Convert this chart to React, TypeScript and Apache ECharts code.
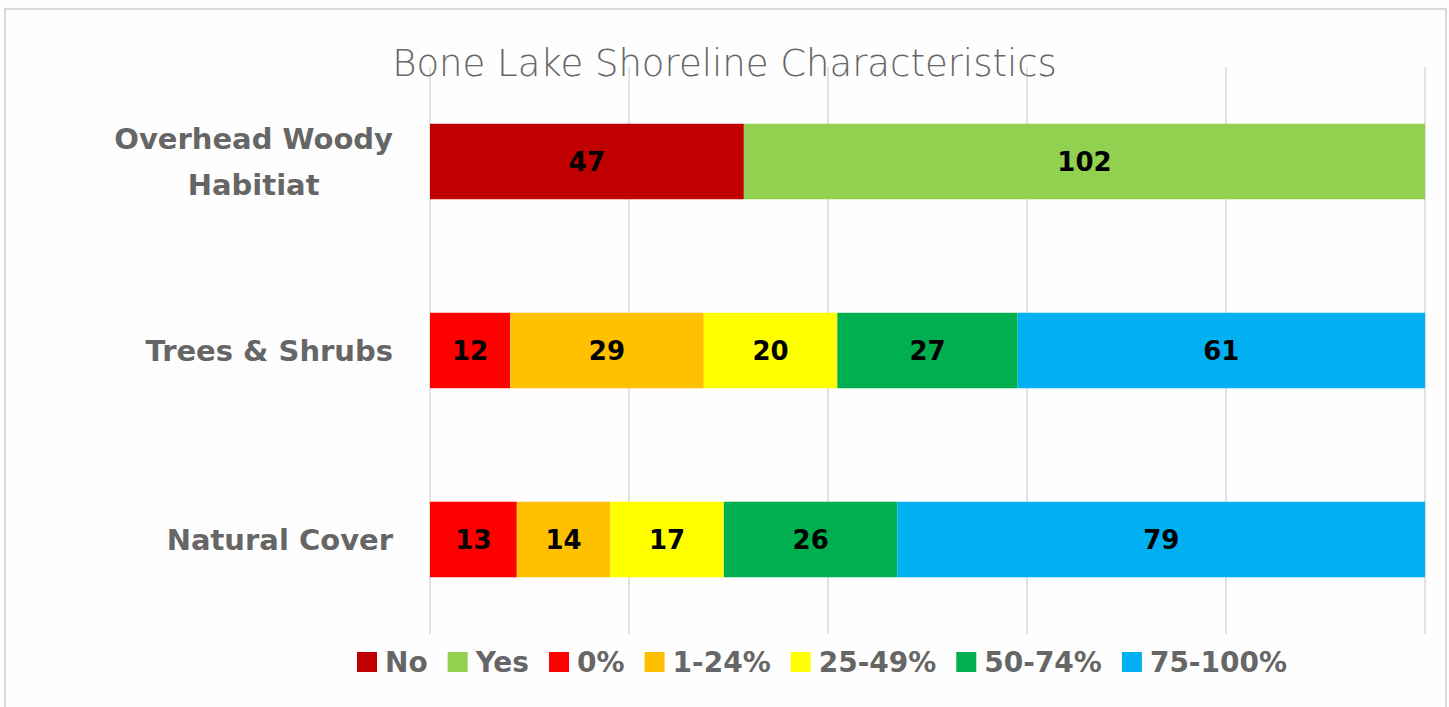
import React, { useEffect, useRef } from "react";
import * as echarts from "echarts";

const categories = ["Overhead Woody\nHabitiat", "Trees & Shrubs", "Natural Cover"];
const seriesNames = ["No", "Yes", "0%", "1-24%", "25-49%", "50-74%", "75-100%"];
const seriesColors = ["#C00000", "#92D050", "#FF0000", "#FFC000", "#FFFF00", "#00B050", "#00B0F0"];
const noValues = [47, null, null];
const yesValues = [102, null, null];
const pct0Values = [null, 12, 13];
const pct1to24Values = [null, 29, 14];
const pct25to49Values = [null, 20, 17];
const pct50to74Values = [null, 27, 26];
const pct75to100Values = [null, 61, 79];
const xTicks = [0, 20, 40, 60, 80, 100];

const allValues = [noValues, yesValues, pct0Values, pct1to24Values, pct25to49Values, pct50to74Values, pct75to100Values];

const FONT = "DejaVu Sans";

export default function App() {
  const ref = useRef<HTMLDivElement>(null);
  useEffect(() => {
    if (!ref.current) return;
    const chart = echarts.init(ref.current, null, { renderer: "svg" });
    const totals = categories.map((_, i) =>
      allValues.reduce((s, arr) => s + (arr[i] == null ? 0 : (arr[i] as number)), 0)
    );
    const series = seriesNames.map((name, si) => ({
      name,
      type: "bar",
      stack: "total",
      barWidth: "40%",
      itemStyle: { color: seriesColors[si] },
      label: {
        show: true,
        position: "inside",
        color: "#000",
        fontFamily: FONT,
        fontWeight: "bold",
        fontSize: 26,
        formatter: (p: any) => (p.data && p.data.raw != null ? String(p.data.raw) : ""),
      },
      data: allValues[si].map((v, i) =>
        v == null ? { value: null, raw: null } : { value: (v / totals[i]) * 100, raw: v }
      ),
    }));
    chart.setOption({
      animation: false,
      backgroundColor: "#fefefe",
      title: {
        text: "Bone Lake Shoreline Characteristics",
        left: "center",
        top: 40,
        textStyle: { fontFamily: FONT, fontWeight: 200, fontSize: 37, color: "#666666" },
      },
      graphic: [
        {
          type: "rect",
          shape: { x: 5, y: 9, width: 1441, height: 710 },
          style: { fill: "none", stroke: "#d9d9d9", lineWidth: 2 },
          silent: true,
        },
      ],
      legend: {
        left: 352,
        top: 643,
        itemWidth: 20,
        itemHeight: 20,
        itemGap: 20,
        icon: "rect",
        textStyle: { fontFamily: FONT, fontWeight: "bold", fontSize: 28, color: "#666666", padding: [0, 0, 0, 3] },
        data: seriesNames,
      },
      grid: { left: 430, right: 24, top: 67, bottom: 73, containLabel: false },
      xAxis: {
        type: "value",
        min: xTicks[0],
        max: xTicks[xTicks.length - 1],
        interval: xTicks[1] - xTicks[0],
        axisLabel: { show: false },
        axisLine: { show: false },
        axisTick: { show: false },
        splitLine: { show: true, lineStyle: { color: "#d9d9d9", width: 1.5 } },
      },
      yAxis: {
        type: "category",
        inverse: true,
        data: categories.map((c) => c.split("\n").map((l) => "{c|" + l + "}").join("\n")),
        axisLine: { show: false },
        axisTick: { show: false },
        axisLabel: {
          margin: 37,
          fontFamily: FONT,
          fontWeight: "bold",
          fontSize: 29,
          color: "#666666",
          lineHeight: 46,
          rich: { c: { align: "center", fontFamily: FONT, fontWeight: "bold", fontSize: 29, color: "#666666", lineHeight: 46 } },
        },
      },
      series,
    });
    return () => chart.dispose();
  }, []);
  return (
    <div
      ref={ref}
      style={{ position: "absolute", left: 0, top: 0, width: 1449, height: 707 }}
    />
  );
}
